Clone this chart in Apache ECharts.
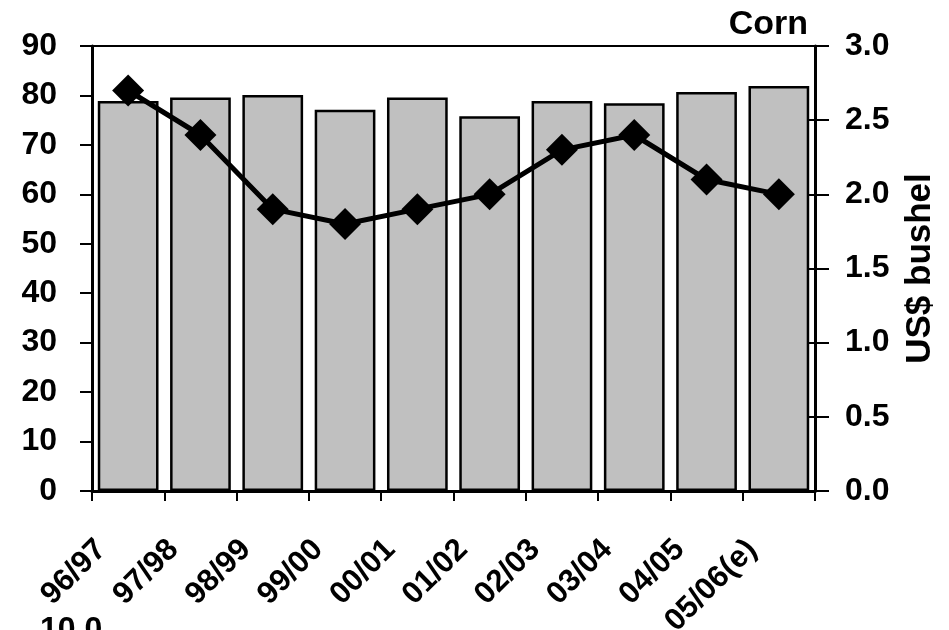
<!DOCTYPE html>
<html>
<head>
<meta charset="utf-8">
<script src="https://cdn.jsdelivr.net/npm/echarts@6/dist/echarts.min.js"></script>
<style>html,body{margin:0;padding:0;background:#fff}#c{width:949px;height:630px}</style>
</head>
<body>
<div id="c"></div>
<script>
const categories = ['96/97','97/98','98/99','99/00','00/01','01/02','02/03','03/04','04/05','05/06(e)'];
const barValues = [78.9, 79.6, 80.1, 77.1, 79.6, 75.8, 78.9, 78.4, 80.7, 81.9];
const priceValues = [2.7, 2.4, 1.9, 1.8, 1.9, 2.0, 2.3, 2.4, 2.1, 2.0];
const leftTicks = {min: 0, max: 90, interval: 10};
const rightTicks = {min: 0, max: 3, interval: 0.5};

const FONT = '"Liberation Sans", Arial, sans-serif';
const chart = echarts.init(document.getElementById('c'), null, {renderer: 'canvas'});
const lbl = {color: '#000', fontFamily: FONT, fontWeight: 'bold', fontSize: 32};
chart.setOption({
  animation: false,
  backgroundColor: '#fff',
  grid: {left: 92, right: 134, top: 46, bottom: 139, show: true, borderColor: '#000', borderWidth: 2,
         backgroundColor: 'transparent', containLabel: false, outerBoundsMode: 'none'},
  xAxis: {
    type: 'category', data: categories, boundaryGap: true,
    axisLine: {lineStyle: {color: '#000', width: 3}},
    axisTick: {show: true, interval: 0, length: 10, lineStyle: {color: '#000', width: 2}},
    axisLabel: Object.assign({}, lbl, {interval: 0, rotate: 45, margin: 27, fontSize: 31, padding: [0, 38, 0, 0]})
  },
  yAxis: [
    {type: 'value', position: 'left', min: leftTicks.min, max: leftTicks.max, interval: leftTicks.interval,
     axisLine: {show: true, lineStyle: {color: '#000', width: 3}},
     axisTick: {show: true, length: 12, lineStyle: {color: '#000', width: 2}},
     splitLine: {show: false},
     axisLabel: Object.assign({}, lbl, {margin: 35})},
    {type: 'value', position: 'right', min: rightTicks.min, max: rightTicks.max, interval: rightTicks.interval,
     name: 'US$ bushel', nameLocation: 'middle', nameRotate: 90, nameGap: 88,
     nameTextStyle: Object.assign({}, lbl, {fontSize: 35}),
     axisLine: {show: true, lineStyle: {color: '#000', width: 3}},
     axisTick: {show: true, length: 14, lineStyle: {color: '#000', width: 2}},
     splitLine: {show: false},
     axisLabel: Object.assign({}, lbl, {margin: 30, formatter: v => v.toFixed(1)})},
    {type: 'value', position: 'right', min: rightTicks.min, max: rightTicks.max, interval: rightTicks.interval,
     axisLine: {show: false}, axisLabel: {show: false}, splitLine: {show: false},
     axisTick: {show: true, inside: true, length: 14, lineStyle: {color: '#000', width: 2}}}
  ],
  series: [
    {type: 'bar', data: barValues, yAxisIndex: 0, barCategoryGap: '16%',
     itemStyle: {color: '#c0c0c0', borderColor: '#000', borderWidth: 2.5}, z: 2},
    {type: 'line', data: priceValues, yAxisIndex: 1, symbol: 'diamond', symbolSize: 32,
     lineStyle: {color: '#000', width: 5}, itemStyle: {color: '#000'}, z: 5}
  ],
  graphic: [
    {type: 'text', right: 141, top: 8, style: {text: 'Corn', fill: '#000', font: 'bold 34px ' + FONT}},
    {type: 'text', left: 40, top: 614, style: {text: '10.0', fill: '#000', font: 'bold 32px ' + FONT}}
  ]
});
</script>
</body>
</html>
